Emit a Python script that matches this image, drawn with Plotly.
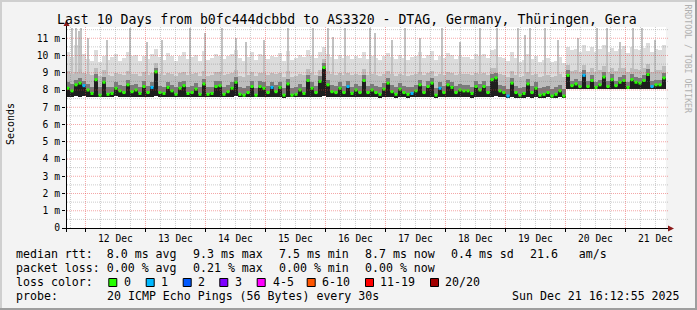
import plotly.graph_objects as go
import pandas as pd

# ---------------- data ----------------
window_start = "2025-12-11 16:12:55"
window_end = "2025-12-21 16:12:55"
step_minutes = 96  # one column of smoke per 96 minutes

med = [8.10, 7.95, 8.30, 8.40, 8.25, 8.00, 7.80, 8.60, 7.70, 8.45,
       7.75, 7.80, 8.10, 7.95, 7.85, 8.30, 7.90, 8.00, 7.80, 8.20,
       7.85, 8.15, 9.05, 7.85, 7.80, 8.15, 7.95, 7.75, 8.10, 8.25,
       7.80, 7.85, 8.05, 7.75, 8.35, 7.75, 7.80, 8.20, 8.25, 7.75,
       7.90, 8.10, 8.45, 7.75, 7.70, 7.85, 8.20, 7.70, 8.20, 8.10,
       7.85, 8.15, 7.90, 8.15, 7.70, 8.35, 7.70, 7.75, 8.00, 7.80,
       8.55, 8.10, 7.85, 8.50, 9.30, 8.30, 7.90, 7.85, 8.10, 7.85,
       8.20, 7.80, 8.00, 7.85, 8.55, 7.85, 8.00, 7.85, 7.75, 8.05,
       8.40, 7.90, 7.75, 8.05, 7.85, 7.75, 7.80, 7.95, 8.30, 7.85,
       8.20, 8.40, 7.70, 8.10, 7.85, 8.30, 8.15, 7.85, 8.00, 7.95,
       7.95, 7.80, 8.20, 8.00, 8.20, 7.85, 8.60, 8.70, 7.95, 7.85,
       7.65, 8.40, 7.85, 7.70, 7.80, 8.35, 7.85, 8.10, 7.70, 7.75,
       7.85, 7.65, 7.75, 7.95, 7.65, 8.85, 8.25, 8.35, 8.20, 8.85,
       8.20, 8.55, 8.15, 8.30, 8.75, 8.20, 8.60, 8.25, 8.45, 8.55,
       8.15, 8.60, 8.45, 8.40, 8.55, 8.90, 8.20, 8.30, 8.30, 8.70]

lo = [7.62, 7.60, 7.64, 7.60, 7.63, 7.58, 7.60, 7.62, 7.57, 7.61,
      7.58, 7.60, 7.63, 7.59, 7.57, 7.62, 7.60, 7.58, 7.61, 7.60,
      7.57, 7.62, 7.64, 7.59, 7.58, 7.61, 7.60, 7.57, 7.60, 7.62,
      7.58, 7.59, 7.61, 7.57, 7.62, 7.58, 7.59, 7.60, 7.62, 7.58,
      7.60, 7.61, 7.63, 7.58, 7.57, 7.59, 7.62, 7.57, 7.60, 7.61,
      7.58, 7.60, 7.59, 7.61, 7.56, 7.62, 7.57, 7.58, 7.60, 7.59,
      7.62, 7.60, 7.58, 7.61, 7.64, 7.61, 7.59, 7.58, 7.60, 7.58,
      7.60, 7.57, 7.59, 7.58, 7.62, 7.58, 7.60, 7.58, 7.56, 7.59,
      7.61, 7.58, 7.56, 7.59, 7.58, 7.56, 7.57, 7.58, 7.60, 7.58,
      7.60, 7.62, 7.56, 7.59, 7.57, 7.60, 7.61, 7.57, 7.59, 7.58,
      7.58, 7.56, 7.60, 7.58, 7.60, 7.57, 7.62, 7.63, 7.58, 7.57,
      7.55, 7.60, 7.56, 7.55, 7.56, 7.59, 7.56, 7.58, 7.55, 7.55,
      7.57, 7.54, 7.55, 7.57, 7.54, 8.06, 8.04, 8.05, 8.03, 8.06,
      8.04, 8.05, 8.03, 8.04, 8.06, 8.03, 8.05, 8.04, 8.05, 8.06,
      8.03, 8.05, 8.04, 8.03, 8.05, 8.06, 8.03, 8.04, 8.04, 8.06]

up = [8.45, 8.35, 8.60, 8.70, 8.55, 8.35, 8.20, 8.90, 8.15, 8.75,
      8.15, 8.20, 8.45, 8.30, 8.25, 8.60, 8.30, 8.35, 8.20, 8.50,
      8.25, 8.45, 9.30, 8.25, 8.20, 8.45, 8.30, 8.15, 8.45, 8.55,
      8.20, 8.25, 8.40, 8.15, 8.65, 8.15, 8.20, 8.50, 8.55, 8.15,
      8.30, 8.45, 8.75, 8.15, 8.10, 8.25, 8.50, 8.10, 8.50, 8.45,
      8.25, 8.45, 8.30, 8.45, 8.10, 8.65, 8.10, 8.15, 8.35, 8.20,
      8.85, 8.45, 8.25, 8.80, 9.55, 8.60, 8.30, 8.25, 8.45, 8.25,
      8.50, 8.20, 8.35, 8.25, 8.85, 8.25, 8.35, 8.25, 8.15, 8.40,
      8.70, 8.30, 8.15, 8.40, 8.25, 8.15, 8.20, 8.30, 8.60, 8.25,
      8.50, 8.70, 8.10, 8.45, 8.25, 8.60, 8.45, 8.25, 8.35, 8.30,
      8.30, 8.20, 8.50, 8.35, 8.50, 8.25, 8.90, 9.00, 8.30, 8.25,
      8.05, 8.70, 8.25, 8.10, 8.20, 8.65, 8.25, 8.45, 8.10, 8.15,
      8.25, 8.05, 8.15, 8.30, 8.05, 9.15, 8.55, 8.65, 8.50, 9.15,
      8.50, 8.85, 8.45, 8.60, 9.05, 8.50, 8.90, 8.55, 8.75, 8.85,
      8.45, 8.90, 8.75, 8.70, 8.85, 9.20, 8.50, 8.60, 8.60, 9.00]

p75 = [9.10, 8.95, 9.05, 9.20, 9.00, 8.90, 8.85, 9.25, 8.80, 9.15,
       8.85, 8.80, 9.00, 8.95, 8.85, 9.10, 8.90, 8.95, 8.80, 9.05,
       8.85, 9.00, 9.55, 8.90, 8.85, 9.00, 8.95, 8.80, 9.00, 9.05,
       8.85, 8.90, 9.00, 8.80, 9.10, 8.80, 8.85, 9.05, 9.05, 8.85,
       8.90, 9.00, 9.15, 8.80, 8.75, 8.85, 9.05, 8.80, 9.00, 9.00,
       8.85, 9.00, 8.90, 9.00, 8.75, 9.10, 8.75, 8.80, 8.95, 8.85,
       9.20, 9.00, 8.85, 9.15, 9.80, 9.10, 8.90, 8.85, 9.00, 8.85,
       9.00, 8.85, 8.95, 8.85, 9.20, 8.85, 8.95, 8.85, 8.80, 8.95,
       9.10, 8.90, 8.80, 8.95, 8.85, 8.80, 8.85, 8.90, 9.05, 8.85,
       9.00, 9.10, 8.80, 8.95, 8.85, 9.05, 9.00, 8.85, 8.95, 8.90,
       8.90, 8.85, 9.00, 8.90, 9.00, 8.85, 9.25, 9.30, 8.90, 8.85,
       8.75, 9.10, 8.85, 8.75, 8.80, 9.05, 8.85, 8.95, 8.75, 8.80,
       8.85, 8.75, 8.80, 8.90, 8.75, 9.45, 9.10, 9.15, 9.05, 9.45,
       9.05, 9.30, 9.05, 9.15, 9.40, 9.05, 9.30, 9.10, 9.25, 9.30,
       9.05, 9.30, 9.20, 9.15, 9.25, 9.50, 9.05, 9.15, 9.15, 9.40]

hi = [10.20, 9.90, 10.60, 10.40, 10.10, 9.80, 9.70, 10.30, 9.60, 10.00,
      9.75, 9.90, 10.10, 9.70, 9.85, 10.20, 9.95, 10.05, 9.70, 10.00,
      9.80, 10.10, 10.40, 9.90, 9.75, 10.15, 10.00, 9.70, 9.95, 10.20,
      9.80, 9.90, 10.05, 9.70, 10.25, 9.75, 9.85, 10.10, 10.00, 9.80,
      9.95, 10.10, 10.30, 9.85, 9.70, 9.90, 10.20, 9.75, 10.10, 10.05,
      9.80, 10.00, 9.90, 10.15, 9.70, 10.25, 9.75, 9.85, 10.05, 9.90,
      10.30, 10.00, 9.85, 10.20, 10.50, 10.10, 9.90, 9.80, 10.05, 9.85,
      10.00, 9.80, 9.95, 9.85, 10.20, 9.80, 10.00, 9.85, 9.75, 9.95,
      10.15, 9.90, 9.80, 10.05, 9.85, 9.75, 9.90, 10.00, 10.20, 9.85,
      10.05, 10.25, 9.75, 10.00, 9.85, 10.15, 10.05, 9.80, 9.95, 9.90,
      9.90, 9.80, 10.10, 9.95, 10.10, 9.85, 10.30, 10.35, 9.90, 9.85,
      9.70, 10.20, 9.85, 9.60, 9.75, 10.10, 9.80, 10.00, 9.65, 9.75,
      9.85, 9.60, 9.70, 9.90, 9.55, 10.50, 10.30, 10.40, 10.20, 10.60,
      10.25, 10.50, 10.20, 10.35, 10.60, 10.20, 10.45, 10.25, 10.40, 10.55,
      10.15, 10.50, 10.35, 10.30, 10.45, 10.70, 10.20, 10.35, 10.30, 10.60]

# columns with one lost ping (all others lost none)
loss1_steps = [4, 21, 51, 70, 86, 93, 110, 129, 146]

# single-ping outliers: hours after window start, and their rtt (ms)
spike_hours = [2.4, 4.0, 5.2, 6.0, 8.8, 16.4, 25.6, 32.4, 38.4, 49.6, 55.6,
               62.4, 68.0, 72.0, 79.2, 88.8, 98.8, 104.8, 106.8, 111.6, 121.6,
               123.6, 130.4, 135.6, 141.6, 150.4, 157.6, 165.6, 172.4, 180.8,
               183.6, 185.6, 191.6, 196.8, 204.8, 212.4, 216.4, 221.6, 226.8,
               230.4, 235.6]
spike_ms = [11.6, 11.6, 11.4, 11.6, 11.0, 10.9, 11.6, 10.8, 10.9, 11.6, 11.3,
            11.6, 11.0, 10.8, 10.9, 11.6, 11.6, 11.6, 11.1, 11.6, 11.6,
            11.3, 10.9, 11.6, 11.0, 11.6, 10.8, 11.6, 11.6, 11.6,
            11.2, 11.6, 11.6, 10.9, 11.0, 11.6, 11.6, 10.8, 11.6,
            11.6, 10.9]

y_tick_vals = [0, 1, 2, 3, 4, 5, 6, 7, 8, 9, 10, 11]
y_tick_text = ["0", "1 m", "2 m", "3 m", "4 m", "5 m", "6 m", "7 m", "8 m", "9 m", "10 m", "11 m"]

title_text = "Last 10 Days from b0fc444dcbbd to AS3320 - DTAG, Germany, Thüringen, Gera"
rtt_items = ["median rtt:  8.0 ms avg", "9.3 ms max", "7.5 ms min", "8.7 ms now", "0.4 ms sd", "21.6   am/s"]
loss_items = ["packet loss: 0.00 % avg", "0.21 % max", "0.00 % min", "0.00 % now"]
loss_labels = ["0", "1", "2", "3", "4-5", "6-10", "11-19", "20/20"]
loss_colors = ["#26ff00", "#00b8ff", "#0059ff", "#7e00ff", "#ff00ff", "#ff5500", "#ff0000", "#a10000"]
probe_text = "20 ICMP Echo Pings (56 Bytes) every 30s"
stamp_text = "Sun Dec 21 16:12:55 2025"

# ---------------- layout geometry (pixels) ----------------
FW, FH = 697, 310
L, R, T, B = 66, 31, 27, 82
PW, PH = FW - L - R, FH - T - B
PX_PER_MS = 17.25
FONT = "DejaVu Sans Mono"


def pxx(x):
    return (x - L) / PW


def pxy(y):
    return (FH - B - y) / PH


t0 = pd.Timestamp(window_start)
t1 = pd.Timestamp(window_end)
n = len(med)
step = pd.Timedelta(minutes=step_minutes)
tx = [(t0 + step * (k + 0.5)).strftime("%Y-%m-%d %H:%M:%S") for k in range(n)]
step_ms = step_minutes * 60 * 1000

fig = go.Figure()


def smoke(top, color):
    fig.add_trace(go.Bar(
        x=tx, y=[a - b for a, b in zip(top, lo)], base=lo, width=step_ms,
        marker=dict(color=color, line=dict(width=0)), hoverinfo="skip", showlegend=False))


smoke(hi, "#dcdcdc")

sx = [(t0 + pd.Timedelta(hours=h)).strftime("%Y-%m-%d %H:%M:%S") for h in spike_hours]
fig.add_trace(go.Bar(
    x=sx, y=[v - 8.5 for v in spike_ms], base=8.5, width=24 * 60 * 1000,
    marker=dict(color="#c2c2c2", line=dict(width=0)), hoverinfo="skip", showlegend=False))

smoke(p75, "#bdbdbd")
smoke(up, "#7a7a7a")
smoke(med, "#1e1e1e")

mcol = [loss_colors[1] if k in loss1_steps else loss_colors[0] for k in range(n)]
fig.add_trace(go.Scatter(
    x=tx, y=med, mode="markers",
    marker=dict(symbol="square", size=3, color=mcol, line=dict(width=0)),
    hoverinfo="skip", showlegend=False))

ymax = PH / PX_PER_MS

shapes = []
# grid drawn on top of the smoke, like rrdtool
MAJ = "rgba(230,60,60,0.45)"
MIN = "rgba(120,120,120,0.38)"
v = 0.5
while v < ymax:
    major = abs(v - round(v)) < 1e-9
    shapes.append(dict(type="line", xref="paper", yref="y", x0=pxx(67), x1=pxx(668.5), y0=v, y1=v,
                       line=dict(color=MAJ if major else MIN, width=1, dash="1px,1px"), layer="above"))
    v += 0.5
g = pd.Timestamp("2025-12-11 18:00:00")
while g < t1:
    major = g.hour == 0
    shapes.append(dict(type="line", xref="x", yref="paper", x0=g, x1=g, y0=0, y1=1,
                       line=dict(color=MAJ if major else MIN, width=1, dash="1px,1px"), layer="above"))
    g += pd.Timedelta(hours=6)

AX = "#000000"
ARROW = "#8b1a1a"
# axes
shapes.append(dict(type="line", xref="paper", yref="paper", x0=pxx(62), x1=pxx(669), y0=pxy(228.5), y1=pxy(228.5),
                   line=dict(color=AX, width=1), layer="above"))
shapes.append(dict(type="line", xref="paper", yref="paper", x0=pxx(66.5), x1=pxx(66.5), y0=pxy(232), y1=pxy(25),
                   line=dict(color=AX, width=1), layer="above"))
# arrow heads
shapes.append(dict(type="path", xref="paper", yref="paper",
                   path=f"M {pxx(668)} {pxy(225.5)} L {pxx(674)} {pxy(228.5)} L {pxx(668)} {pxy(231.5)} Z",
                   fillcolor=ARROW, line=dict(width=0), layer="above"))
shapes.append(dict(type="path", xref="paper", yref="paper",
                   path=f"M {pxx(63.5)} {pxy(26)} L {pxx(66.5)} {pxy(20)} L {pxx(69.5)} {pxy(26)} Z",
                   fillcolor=ARROW, line=dict(width=0), layer="above"))
# 3D frame
for (x0, y0, x1, y1, c) in [(0, 0, FW, 2, "#cfcfcf"), (0, 0, 2, FH, "#cfcfcf"),
                            (FW - 2, 0, FW, FH, "#9e9e9e"), (0, FH - 2, FW, FH, "#9e9e9e")]:
    shapes.append(dict(type="rect", xref="paper", yref="paper", x0=pxx(x0), x1=pxx(x1), y0=pxy(y1), y1=pxy(y0),
                       fillcolor=c, line=dict(width=0), layer="above"))

# legend boxes
box_x = [108.3, 145.7, 182.7, 219.3, 256.7, 306.7, 365, 430]
for bx, c in zip(box_x, loss_colors):
    shapes.append(dict(type="rect", xref="paper", yref="paper", x0=pxx(bx + 0.5), x1=pxx(bx + 8.5),
                       y0=pxy(286.5), y1=pxy(278.5), fillcolor=c, line=dict(color="#000000", width=1), layer="above"))

ann = []


def text(s, x, y, size=11.6, anchor="left", color="#000000", angle=0):
    ann.append(dict(text=s, x=pxx(x), y=pxy(y), xref="paper", yref="paper", xanchor=anchor, yanchor="middle",
                    showarrow=False, font=dict(family=FONT, size=size, color=color), borderpad=0, borderwidth=0,
                    textangle=angle))


text(title_text, 347, 19.5, size=13.2, anchor="center")
text("Seconds", 10, 124, size=10, anchor="center", angle=-90)
text("RRDTOOL / TOBI OETIKER", 687.5, 59, size=8.2, anchor="center", color="#b0b0b0", angle=90)

row_x = [16, 193.3, 279.3, 365, 451, 530]
for s, x in zip(rtt_items, row_x):
    text(s, x, 254.3)
for s, x in zip(loss_items, row_x):
    text(s, x, 268)
text("loss color:", 16, 282.3)
lab_x = [124, 161, 197.7, 235, 272.7, 321.7, 380, 445]
for s, x in zip(loss_labels, lab_x):
    text(s, x, 282.3)
text("probe:", 16, 296.2)
text(probe_text, 107.3, 296.2)
text(stamp_text, 680, 296.2, anchor="right")

fig.update_layout(
    width=FW, height=FH, autosize=False,
    margin=dict(l=L, r=R, t=T, b=B, pad=0),
    paper_bgcolor="#f3f3f3", plot_bgcolor="#ffffff",
    barmode="overlay", bargap=0,
    shapes=shapes, annotations=ann,
    xaxis=dict(type="date", range=[t0, t1], showgrid=False, zeroline=False, showline=False,
               dtick=86400000, tick0="2025-12-11 00:00:00", tickformat="%d %b", ticklabelmode="period",
               ticks="outside", ticklen=3, tickcolor="#000000", automargin=False, ticklabelstandoff=-2,
               tickfont=dict(family=FONT, size=9.7, color="#000000")),
    yaxis=dict(range=[0, ymax], showgrid=False, zeroline=False, showline=False,
               tickmode="array", tickvals=y_tick_vals, ticktext=y_tick_text,
               ticks="outside", ticklen=3, tickcolor="#000000", automargin=False,
               tickfont=dict(family=FONT, size=9.7, color="#000000")),
)

fig.write_html("out.html")
